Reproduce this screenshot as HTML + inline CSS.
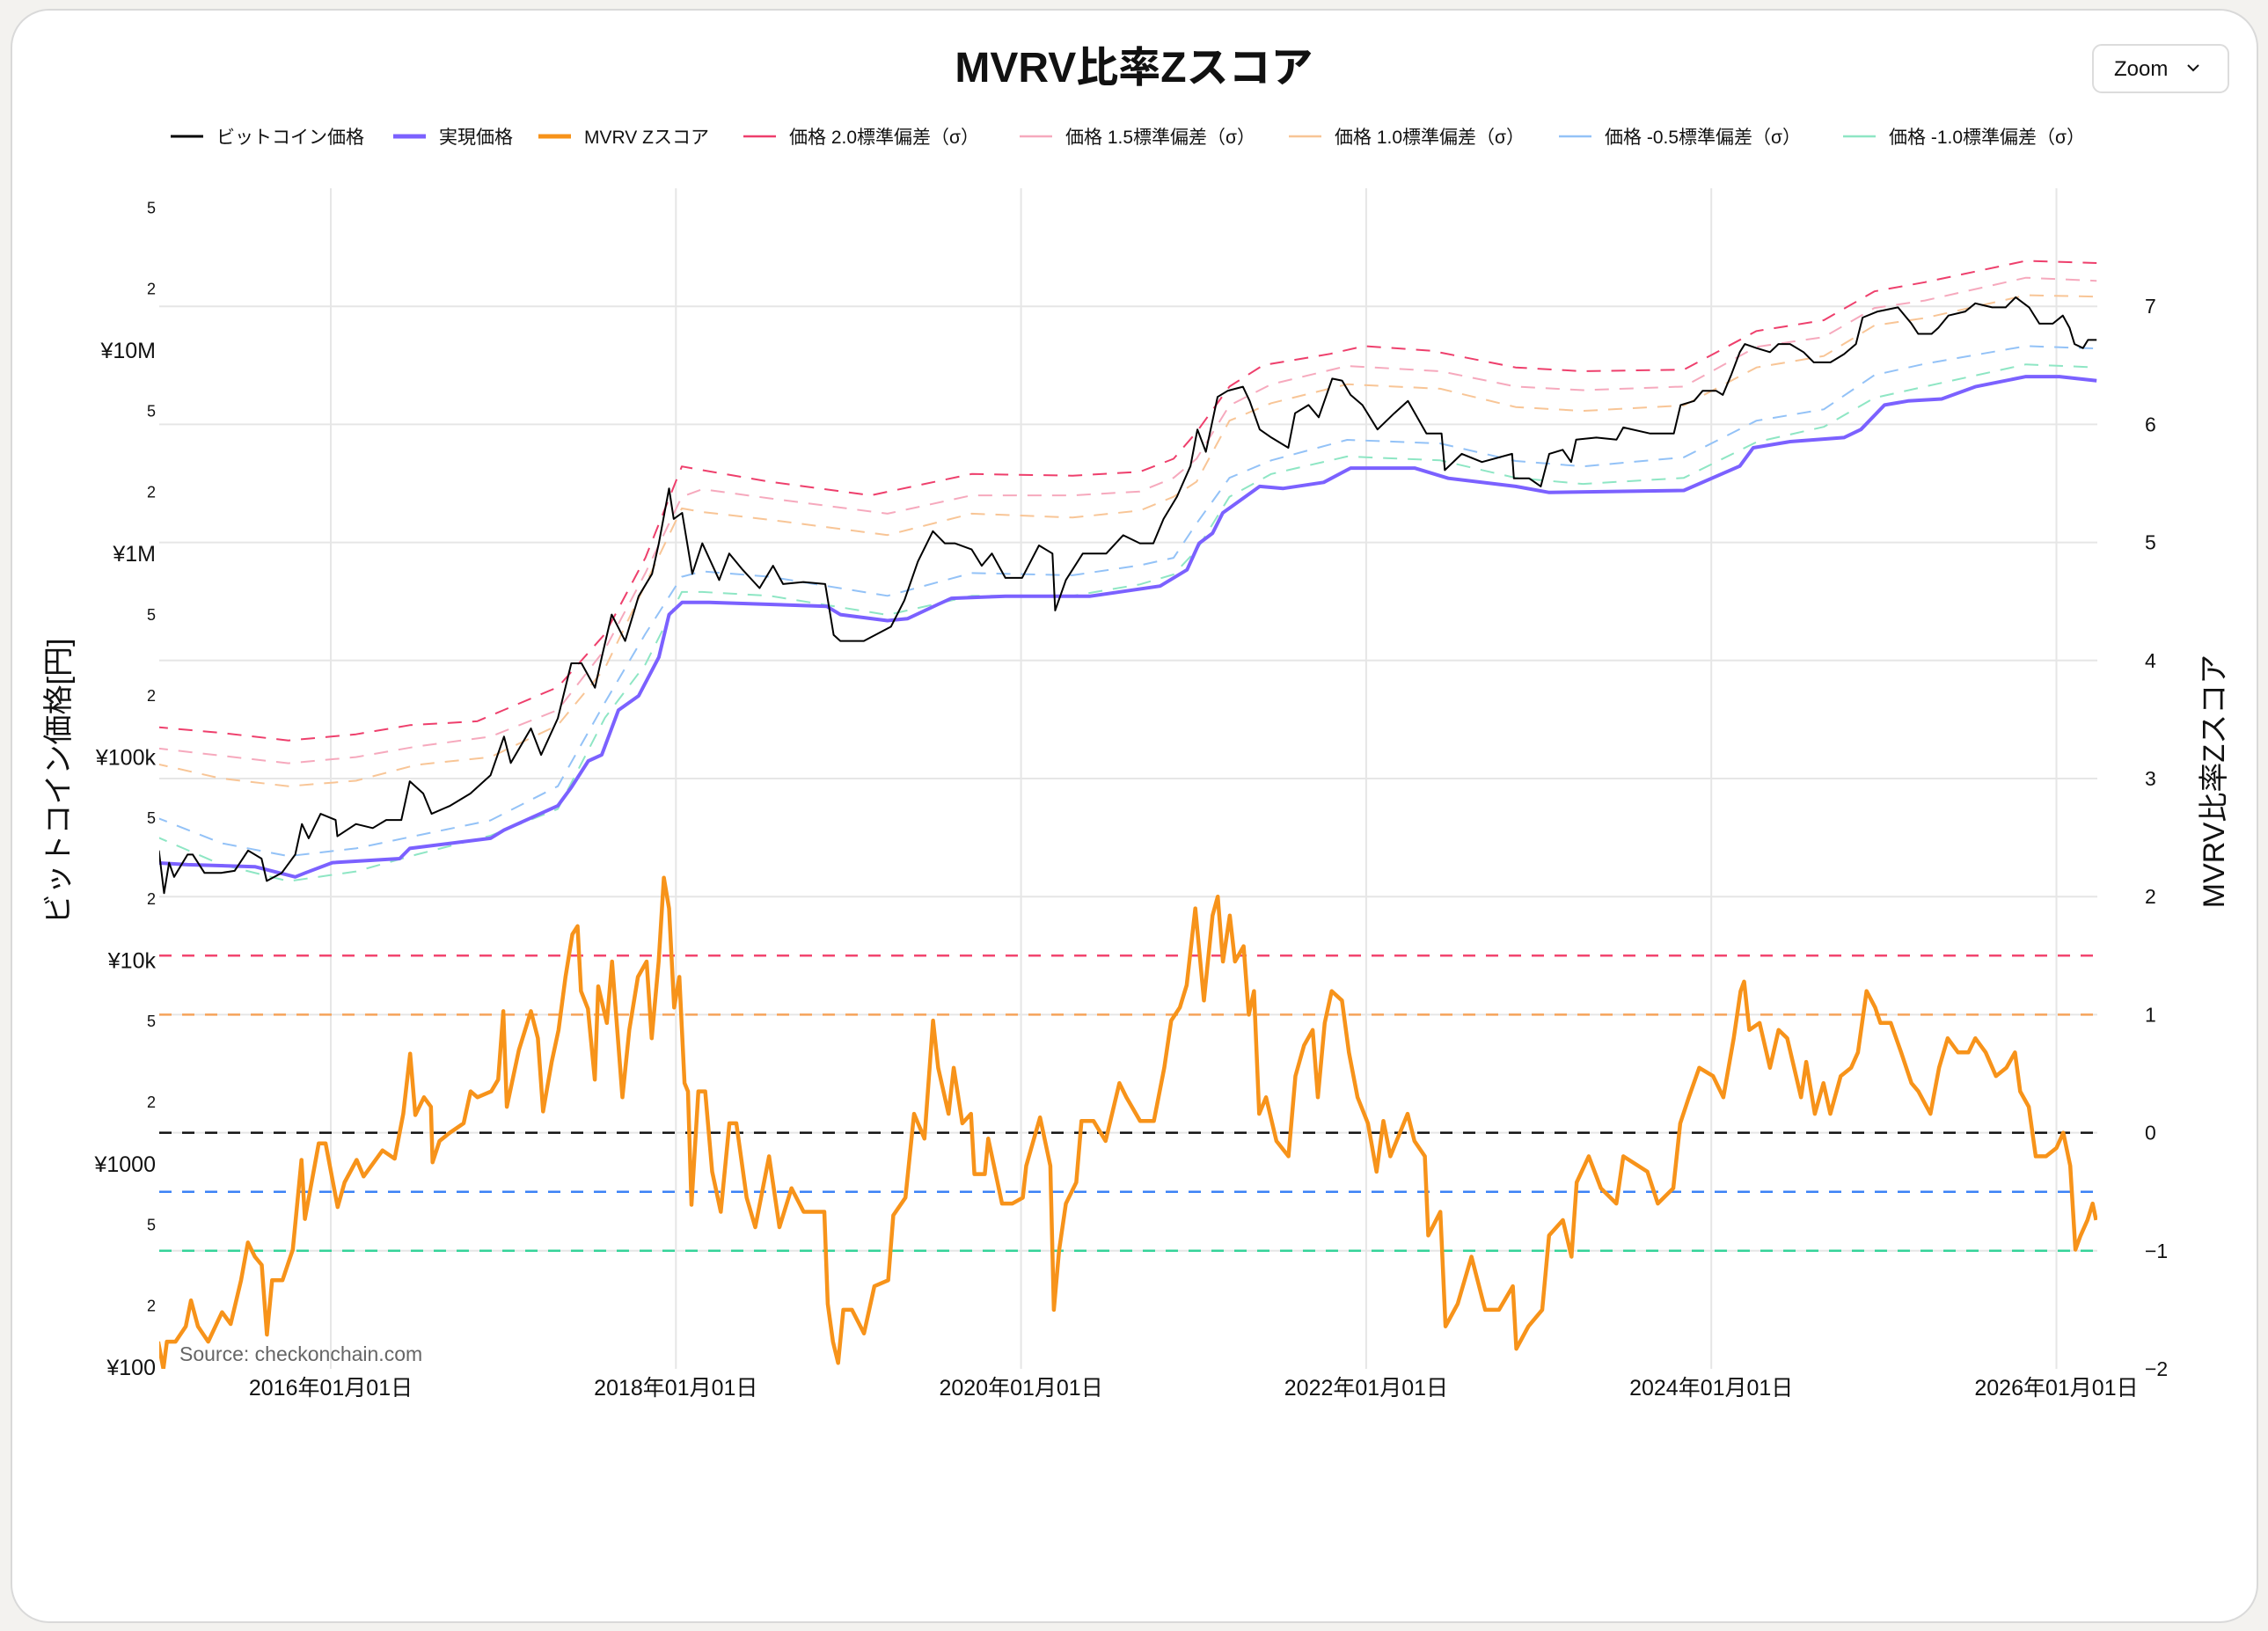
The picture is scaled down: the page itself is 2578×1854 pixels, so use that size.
<!DOCTYPE html>
<html><head><meta charset="utf-8">
<style>
html,body{margin:0;padding:0;background:#f3f2ef;}
body{width:2578px;height:1854px;position:relative;overflow:hidden;font-family:"Liberation Sans","Noto Sans CJK JP",sans-serif;}
#card{position:absolute;left:12px;top:10px;width:2551px;height:1831px;background:#fff;border:2px solid #d9d9d9;border-radius:44px;}
svg{position:absolute;left:0;top:0;}
</style></head>
<body>
<div id="card"></div>
<svg id="chart" width="2578" height="1854">
<defs><clipPath id="plotclip"><rect x="181" y="214" width="2203" height="1342"/></clipPath></defs>
<text x="1289" y="93" text-anchor="middle" font-size="48" font-weight="bold" fill="#111">MVRV比率Zスコア</text>
<g>
<rect x="2379" y="51" width="154" height="54" rx="10" fill="#fff" stroke="#dcdcdc" stroke-width="2"/>
<text x="2403" y="86" font-size="24" fill="#111">Zoom</text>
<path d="M2487 74 l6 6 l6 -6" fill="none" stroke="#111" stroke-width="2"/>
</g>
<g id="legend"></g>
<g id="grid"></g>
<g id="axes"></g>
<g id="series" clip-path="url(#plotclip)"></g>
<text x="204" y="1547" font-size="23" fill="#666">Source: checkonchain.com</text>
<text transform="translate(78,888) rotate(-90)" text-anchor="middle" font-size="34" fill="#111">ビットコイン価格[円]</text>
<text transform="translate(2528,888) rotate(-90)" text-anchor="middle" font-size="34" fill="#111">MVRV比率Zスコア</text>
</svg>
<script>
// ---- data (dates in decimal years; prices as log10 of JPY) ----
const priceDates=[2015.004,2015.034,2015.063,2015.092,2015.17,2015.2,2015.268,2015.365,2015.443,2015.521,2015.599,2015.629,2015.716,2015.794,2015.833,2015.872,2015.941,2016.028,2016.038,2016.146,2016.243,2016.321,2016.409,2016.458,2016.536,2016.584,2016.692,2016.809,2016.926,2017.004,2017.043,2017.16,2017.219,2017.316,2017.394,2017.453,2017.531,2017.57,2017.628,2017.706,2017.784,2017.862,2017.901,2017.96,2017.987,2018.036,2018.095,2018.153,2018.251,2018.309,2018.387,2018.485,2018.563,2018.621,2018.738,2018.865,2018.914,2018.953,2019.089,2019.246,2019.324,2019.402,2019.489,2019.558,2019.616,2019.714,2019.772,2019.831,2019.909,2020.006,2020.104,2020.182,2020.198,2020.26,2020.358,2020.494,2020.592,2020.689,2020.767,2020.826,2020.904,2020.982,2021.022,2021.071,2021.139,2021.198,2021.286,2021.325,2021.383,2021.451,2021.549,2021.588,2021.666,2021.725,2021.803,2021.861,2021.91,2021.978,2022.066,2022.163,2022.242,2022.349,2022.437,2022.456,2022.554,2022.671,2022.846,2022.856,2022.944,2023.012,2023.061,2023.139,2023.188,2023.217,2023.334,2023.451,2023.49,2023.646,2023.783,2023.822,2023.9,2023.95,2024.028,2024.067,2024.116,2024.165,2024.194,2024.262,2024.34,2024.389,2024.457,2024.535,2024.594,2024.691,2024.769,2024.838,2024.877,2024.964,2025.082,2025.16,2025.199,2025.277,2025.316,2025.374,2025.472,2025.53,2025.628,2025.706,2025.764,2025.842,2025.901,2025.979,2026.037,2026.076,2026.105,2026.154,2026.183,2026.233];
const priceLog=[4.54,4.33,4.48,4.41,4.52,4.52,4.43,4.43,4.44,4.54,4.5,4.39,4.43,4.52,4.67,4.6,4.72,4.69,4.61,4.67,4.65,4.69,4.69,4.88,4.82,4.72,4.76,4.82,4.91,5.10,4.97,5.14,5.01,5.19,5.46,5.46,5.34,5.49,5.70,5.57,5.79,5.9,6.05,6.32,6.17,6.2,5.9,6.05,5.87,6.0,5.92,5.83,5.94,5.85,5.86,5.85,5.60,5.57,5.57,5.64,5.77,5.96,6.11,6.05,6.05,6.02,5.94,6.0,5.88,5.88,6.04,6.0,5.72,5.87,6.0,6.0,6.09,6.05,6.05,6.17,6.28,6.43,6.61,6.50,6.77,6.80,6.82,6.75,6.61,6.57,6.52,6.69,6.73,6.67,6.86,6.85,6.78,6.73,6.61,6.69,6.75,6.59,6.59,6.41,6.49,6.45,6.49,6.37,6.37,6.33,6.49,6.51,6.45,6.56,6.57,6.56,6.62,6.59,6.59,6.73,6.75,6.80,6.80,6.78,6.88,6.99,7.03,7.01,6.99,7.03,7.03,6.99,6.94,6.94,6.98,7.03,7.16,7.19,7.21,7.13,7.08,7.08,7.11,7.17,7.19,7.23,7.21,7.21,7.26,7.21,7.13,7.13,7.17,7.11,7.03,7.01,7.05,7.05];
const realizedDates=[2014.975,2015.17,2015.56,2015.794,2015.853,2016.009,2016.399,2016.458,2016.926,2017.004,2017.316,2017.394,2017.492,2017.57,2017.667,2017.784,2017.901,2017.96,2018.036,2018.192,2018.543,2018.875,2018.953,2019.226,2019.343,2019.519,2019.597,2019.909,2020.397,2020.806,2020.962,2021.032,2021.11,2021.169,2021.383,2021.52,2021.754,2021.91,2022.281,2022.476,2022.866,2023.061,2023.841,2024.165,2024.243,2024.457,2024.769,2024.867,2025.004,2025.14,2025.335,2025.53,2025.823,2026.018,2026.233];
const realizedLog=[4.48,4.47,4.46,4.41,4.43,4.48,4.5,4.55,4.6,4.64,4.76,4.85,4.98,5.01,5.23,5.30,5.49,5.70,5.76,5.76,5.75,5.74,5.70,5.67,5.68,5.75,5.78,5.79,5.79,5.84,5.92,6.05,6.1,6.2,6.33,6.32,6.35,6.42,6.42,6.37,6.33,6.30,6.31,6.43,6.52,6.55,6.57,6.61,6.73,6.75,6.76,6.82,6.87,6.87,6.85];
const zDates=[2015.0,2015.03,2015.05,2015.1,2015.16,2015.19,2015.23,2015.29,2015.37,2015.42,2015.48,2015.52,2015.56,2015.6,2015.63,2015.66,2015.72,2015.78,2015.83,2015.85,2015.93,2015.97,2016.04,2016.08,2016.15,2016.19,2016.30,2016.37,2016.42,2016.46,2016.49,2016.54,2016.58,2016.59,2016.63,2016.69,2016.77,2016.81,2016.85,2016.93,2016.97,2017.0,2017.02,2017.09,2017.16,2017.2,2017.23,2017.28,2017.32,2017.36,2017.4,2017.43,2017.45,2017.49,2017.53,2017.55,2017.6,2017.63,2017.69,2017.73,2017.78,2017.83,2017.86,2017.9,2017.93,2017.96,2017.99,2018.02,2018.05,2018.07,2018.09,2018.13,2018.17,2018.21,2018.26,2018.31,2018.35,2018.41,2018.46,2018.54,2018.6,2018.67,2018.74,2018.86,2018.88,2018.91,2018.94,2018.97,2019.02,2019.09,2019.15,2019.23,2019.26,2019.33,2019.38,2019.44,2019.49,2019.52,2019.58,2019.61,2019.66,2019.71,2019.73,2019.79,2019.81,2019.89,2019.95,2020.01,2020.03,2020.11,2020.17,2020.19,2020.22,2020.26,2020.32,2020.35,2020.42,2020.49,2020.57,2020.61,2020.69,2020.77,2020.83,2020.87,2020.92,2020.96,2021.01,2021.06,2021.11,2021.14,2021.17,2021.21,2021.24,2021.29,2021.32,2021.35,2021.38,2021.42,2021.48,2021.55,2021.59,2021.64,2021.69,2021.72,2021.76,2021.8,2021.86,2021.9,2021.95,2022.01,2022.06,2022.1,2022.14,2022.24,2022.28,2022.34,2022.36,2022.43,2022.46,2022.53,2022.61,2022.69,2022.77,2022.85,2022.87,2022.94,2023.02,2023.06,2023.14,2023.19,2023.22,2023.29,2023.36,2023.45,2023.49,2023.63,2023.69,2023.78,2023.82,2023.87,2023.93,2024.01,2024.07,2024.13,2024.17,2024.19,2024.22,2024.28,2024.34,2024.39,2024.44,2024.52,2024.55,2024.6,2024.65,2024.69,2024.75,2024.81,2024.85,2024.9,2024.95,2024.98,2025.04,2025.1,2025.16,2025.2,2025.27,2025.32,2025.37,2025.43,2025.49,2025.53,2025.59,2025.65,2025.71,2025.76,2025.79,2025.84,2025.88,2025.94,2026.0,2026.04,2026.08,2026.11,2026.14,2026.18,2026.21,2026.23];
const zValues=[-1.77,-2.0,-1.77,-1.77,-1.64,-1.42,-1.64,-1.77,-1.52,-1.62,-1.25,-0.93,-1.05,-1.12,-1.71,-1.25,-1.25,-0.99,-0.23,-0.73,-0.09,-0.09,-0.63,-0.42,-0.23,-0.37,-0.15,-0.22,0.16,0.67,0.15,0.3,0.22,-0.25,-0.07,0.0,0.08,0.35,0.3,0.35,0.45,1.03,0.22,0.7,1.03,0.8,0.18,0.6,0.87,1.32,1.68,1.75,1.2,1.05,0.45,1.24,0.93,1.45,0.3,0.87,1.32,1.45,0.8,1.45,2.16,1.9,1.06,1.32,0.42,0.35,-0.61,0.35,0.35,-0.33,-0.67,0.08,0.08,-0.55,-0.8,-0.2,-0.8,-0.47,-0.67,-0.67,-1.45,-1.77,-1.95,-1.5,-1.5,-1.7,-1.3,-1.25,-0.7,-0.55,0.16,-0.05,0.95,0.55,0.16,0.55,0.08,0.16,-0.35,-0.35,-0.05,-0.6,-0.6,-0.55,-0.28,0.13,-0.28,-1.5,-1.0,-0.6,-0.42,0.1,0.1,-0.07,0.42,0.3,0.1,0.1,0.55,0.95,1.06,1.25,1.9,1.12,1.84,2.0,1.45,1.84,1.45,1.58,1.0,1.2,0.16,0.3,-0.07,-0.2,0.48,0.74,0.87,0.3,0.93,1.2,1.12,0.68,0.3,0.08,-0.33,0.1,-0.2,0.16,-0.07,-0.2,-0.87,-0.67,-1.64,-1.45,-1.05,-1.5,-1.5,-1.3,-1.83,-1.64,-1.5,-0.87,-0.74,-1.05,-0.42,-0.2,-0.47,-0.6,-0.2,-0.33,-0.6,-0.47,0.08,0.3,0.55,0.48,0.3,0.8,1.2,1.28,0.87,0.93,0.55,0.87,0.8,0.3,0.6,0.16,0.42,0.16,0.48,0.55,0.68,1.2,1.06,0.93,0.93,0.68,0.42,0.35,0.16,0.55,0.8,0.68,0.68,0.8,0.68,0.48,0.55,0.68,0.35,0.22,-0.2,-0.2,-0.13,0.0,-0.28,-0.99,-0.87,-0.74,-0.6,-0.74];
const band20Dates=[2014.975,2015.365,2015.755,2016.146,2016.458,2016.848,2017.004,2017.316,2017.589,2017.823,2018.034,2018.153,2018.543,2019.128,2019.714,2020.299,2020.689,2020.884,2021.017,2021.208,2021.403,2021.793,2021.988,2022.378,2022.866,2023.256,2023.841,2024.262,2024.652,2024.945,2025.238,2025.823,2026.233];
const band20Log=[5.148,5.118,5.081,5.111,5.156,5.175,5.231,5.343,5.605,5.979,6.428,6.410,6.353,6.286,6.391,6.383,6.402,6.466,6.597,6.821,6.926,6.982,7.020,6.997,6.915,6.896,6.904,7.094,7.147,7.289,7.334,7.439,7.428];
const bandDates=[2014.975,2015.365,2015.755,2016.146,2016.497,2016.926,2017.316,2017.589,2017.823,2018.034,2018.153,2018.543,2019.226,2019.714,2020.299,2020.689,2020.884,2021.017,2021.208,2021.45,2021.89,2022.43,2022.866,2023.256,2023.841,2024.262,2024.652,2024.945,2025.238,2025.823,2026.233];
const band15Log=[5.044,5.006,4.969,4.999,5.051,5.100,5.231,5.530,5.904,6.279,6.316,6.271,6.196,6.286,6.286,6.305,6.372,6.466,6.728,6.832,6.922,6.896,6.821,6.803,6.821,7.016,7.064,7.207,7.244,7.356,7.341];
const band10Log=[4.969,4.894,4.856,4.883,4.961,4.999,5.156,5.437,5.848,6.222,6.204,6.166,6.091,6.196,6.177,6.211,6.279,6.353,6.653,6.739,6.832,6.810,6.720,6.701,6.728,6.915,6.971,7.121,7.158,7.270,7.263];
const bandM05Log=[4.707,4.576,4.512,4.550,4.613,4.688,4.856,5.268,5.605,5.886,5.912,5.886,5.792,5.904,5.893,5.942,5.979,6.148,6.372,6.458,6.559,6.541,6.455,6.428,6.473,6.653,6.709,6.877,6.933,7.020,7.008];
const bandM10Log=[4.613,4.471,4.389,4.437,4.520,4.613,4.744,5.193,5.455,5.811,5.811,5.792,5.698,5.792,5.792,5.848,5.897,6.017,6.279,6.391,6.477,6.458,6.372,6.342,6.372,6.548,6.623,6.765,6.821,6.930,6.915];
const zRefLevels=[1.5,1.0,0,-0.5,-1.0];
const zRefColors=['#f2456f','#f5a35a','#111111','#3b82f6','#34d399'];
const zTicks=[-2,-1,0,1,2,3,4,5,6,7];
const zTickLabels=['−2','−1','0','1','2','3','4','5','6','7'];
const yearTicks=[2016,2018,2020,2022,2024,2026];
const yearLabels=['2016年01月01日','2018年01月01日','2020年01月01日','2022年01月01日','2024年01月01日','2026年01月01日'];
const priceMajor=[2,3,4,5,6,7];
const priceMajorLabels=['¥100','¥1000','¥10k','¥100k','¥1M','¥10M'];

// ---- axes ----
const L=181,R=2384,T=214,B=1556;
const xS=d=>376+(d-2016)*196.15;
const yL=lg=>1554-(lg-2)*231.2;
const yZ=z=>B-(z+2)*134.2;
const NS='http://www.w3.org/2000/svg';
function mk(tag,attrs,parent){const e=document.createElementNS(NS,tag);for(const k in attrs)e.setAttribute(k,attrs[k]);parent.appendChild(e);return e;}
const grid=document.getElementById('grid'),axes=document.getElementById('axes'),series=document.getElementById('series'),legend=document.getElementById('legend');

zTicks.forEach((z,i)=>{
  if(z>-2){const g=mk('line',{x1:L,x2:R,y1:yZ(z),y2:yZ(z),stroke:'#e6e6e6','stroke-width':2},grid);
  
  }
  const t=mk('text',{x:2438,y:yZ(z)+8,'font-size':23,fill:'#111'},axes);t.textContent=zTickLabels[i];
  
  
});
yearTicks.forEach((yr,i)=>{
  const g=mk('line',{x1:xS(yr),x2:xS(yr),y1:T,y2:B,stroke:'#e6e6e6','stroke-width':2},grid);
  
  
  const t=mk('text',{x:xS(yr),y:1586,'text-anchor':'middle','font-size':25,fill:'#111'},axes);t.textContent=yearLabels[i];
  
  
});
priceMajor.forEach((p,i)=>{
  const t=mk('text',{x:177,y:yL(p)+9,'text-anchor':'end','font-size':25,fill:'#111'},axes);t.textContent=priceMajorLabels[i];
  
  
  [[0.301,'2'],[0.699,'5']].forEach(m=>{
    const mt=mk('text',{x:177,y:yL(p+m[0])+6,'text-anchor':'end','font-size':18,fill:'#111'},axes);mt.textContent=m[1];
    
    
  });
});
zRefLevels.forEach((z,i)=>{
  const l=mk('line',{x1:L,x2:R,y1:yZ(z),y2:yZ(z),stroke:zRefColors[i],'stroke-width':2.5,'stroke-dasharray':'14 12'},series);
  
  
});
function pathOf(ds,vs,ys){return ds.map((d,i)=>(i?'L':'M')+xS(d).toFixed(1)+' '+ys(vs[i]).toFixed(1)).join(' ');}
function line(ds,vs,ys,color,w,dash,name){
  const p=mk('path',{d:pathOf(ds,vs,ys),fill:'none',stroke:color,'stroke-width':w,'stroke-linejoin':'round'},series);
  if(dash)p.setAttribute('stroke-dasharray',dash);
  
  
}
line(bandDates,bandM10Log,yL,'#8ee6c4',2,'16 12','band-minus-1-sigma');
line(bandDates,bandM05Log,yL,'#93c2f7',2,'16 12','band-minus-0.5-sigma');
line(bandDates,band10Log,yL,'#f8c596',2,'16 12','band-1.0-sigma');
line(bandDates,band15Log,yL,'#f6a9bd',2,'16 12','band-1.5-sigma');
line(band20Dates,band20Log,yL,'#ee3f6c',2,'16 12','band-2.0-sigma');
line(realizedDates,realizedLog,yL,'#7b61ff',4,null,'realized-price-line');
line(priceDates,priceLog,yL,'#000',2,null,'bitcoin-price-line');
line(zDates,zValues,yZ,'#f7931a',4.5,null,'mvrv-zscore-line');

// legend
const legItems=[['ビットコイン価格','#000',3,194],['実現価格','#7b61ff',5,447],['MVRV Zスコア','#f7931a',5,612],['価格 2.0標準偏差（σ）','#ee3f6c',2.5,845],['価格 1.5標準偏差（σ）','#f6a9bd',2.5,1159],['価格 1.0標準偏差（σ）','#f8c596',2.5,1465],['価格 -0.5標準偏差（σ）','#93c2f7',2.5,1772],['価格 -1.0標準偏差（σ）','#8ee6c4',2.5,2095]];
legItems.forEach(it=>{
  const g=mk('g',{},legend);
  
  
  mk('line',{x1:it[3],x2:it[3]+37,y1:155,y2:155,stroke:it[1],'stroke-width':it[2]},g);
  const t=mk('text',{x:it[3]+52,y:163,'font-size':21,fill:'#111'},g);t.textContent=it[0];
});
</script>
</body></html>
